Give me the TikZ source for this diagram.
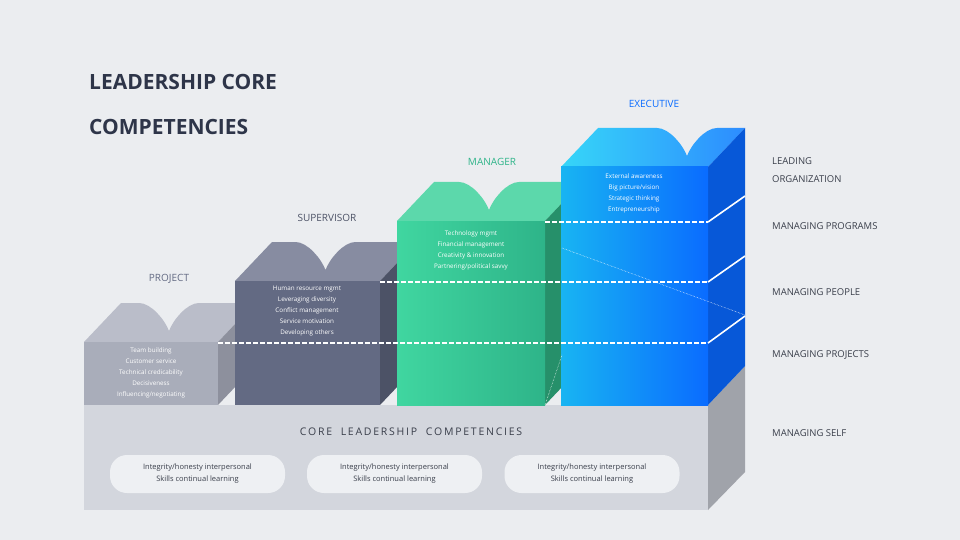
\documentclass[tikz,border=0pt]{standalone}
\usepackage{fontspec}
\setmainfont{Open Sans}
\usetikzlibrary{calc}
\definecolor{bgc}{HTML}{EBEDF0}
\definecolor{titlec}{HTML}{2E3549}
\definecolor{basefront}{HTML}{D3D6DD}
\definecolor{baseside}{HTML}{A0A3AA}
\definecolor{projfront}{HTML}{A9ADBA}
\definecolor{projtop}{HTML}{BABDC9}
\definecolor{projside}{HTML}{8D909D}
\definecolor{supfront}{HTML}{636A83}
\definecolor{suptop}{HTML}{878CA1}
\definecolor{supside}{HTML}{4C5266}
\definecolor{manfrontl}{HTML}{40D6A0}
\definecolor{manfrontr}{HTML}{2EB489}
\definecolor{mantop}{HTML}{5CD8AB}
\definecolor{manside}{HTML}{26906A}
\definecolor{exefrontl}{HTML}{18B4F2}
\definecolor{exefrontr}{HTML}{0A6CFF}
\definecolor{exetopl}{HTML}{36D6F8}
\definecolor{exetopr}{HTML}{2D8CFF}
\definecolor{exeside}{HTML}{0758D8}
\definecolor{labgray}{HTML}{3A3F4B}
\definecolor{pillc}{HTML}{EEF0F3}
% top face of a step with its notch: #1 left x, #2 right x, #3 front y, #4 fill
\newcommand{\steptop}[4]{%
  \pgfmathsetmacro{\nm}{(#1+#2)/2+18}%
  \fill[#4] (#1,#3) -- (#1+37,#3-39) -- (\nm-30,#3-39)
    .. controls (\nm-18,#3-39) and (\nm-4,#3-22) .. (\nm,#3-11)
    .. controls (\nm+4,#3-22) and (\nm+18,#3-39) .. (\nm+30,#3-39)
    -- (#2+37,#3-39) -- (#2,#3) -- cycle;}
\tikzset{
  steptext/.style={text=white, align=center, font=\fontsize{6.3}{11}\selectfont, anchor=north, inner sep=0pt},
  levellabel/.style={font=\fontsize{10}{12}\selectfont, anchor=center, inner sep=0pt},
  sidelabel/.style={text=labgray, font=\fontsize{9.5}{18}\selectfont, anchor=west, align=left, inner sep=0pt},
  pill/.style={fill=pillc, rounded corners=17pt, minimum width=175pt, minimum height=38pt, inner sep=0pt, align=center, text=labgray, font=\fontsize{7.5}{12}\selectfont},
  levelline/.style={white, line width=1.6pt, dash pattern=on 5pt off 2pt},
  riseline/.style={white, line width=1.6pt}
}
\begin{document}
\begin{tikzpicture}[x=1pt,y=-1pt]
\fill[bgc] (0,0) rectangle (960,540);
\useasboundingbox (0,0) rectangle (960,540);

%Shape: base platform
\fill[basefront] (84,405) rectangle (708,510);
\fill[baseside] (708,405) -- (745,366) -- (745,472) -- (708,510) -- cycle;

%Shape: project step
\steptop{84}{218}{342}{projtop}
\fill[projside] (218,342) -- (255,303) -- (255,366) -- (218,405) -- cycle;
\fill[projfront] (84,342) rectangle (218,405);

%Shape: supervisor step
\steptop{235}{380}{281}{suptop}
\fill[supside] (380,281) -- (417,242) -- (417,366) -- (380,405) -- cycle;
\fill[supfront] (235,281) rectangle (380,405);

%Shape: manager step
\steptop{397}{545}{221}{mantop}
\fill[manside] (545,221) -- (582,182) -- (582,366) -- (545,405) -- cycle;
\shade[left color=manfrontl, right color=manfrontr] (397,221) rectangle (545,405);

%Shape: executive step
\shade[left color=exetopl, right color=exetopr] (561,167) -- (598,128) -- (657,128)
  .. controls (669,128) and (683,145) .. (687,156)
  .. controls (691,145) and (705,128) .. (717,128) -- (745,128) -- (708,167) -- cycle;
\fill[exeside] (708,167) -- (745,128) -- (745,366) -- (708,405) -- cycle;
\shade[left color=exefrontl, right color=exefrontr] (561,167) rectangle (708,405);

%Lines: levels
\draw[levelline] (545,222) -- (708,222);
\draw[riseline] (708,222) -- (745,196);
\draw[levelline] (380,282) -- (708,282);
\draw[riseline] (708,282) -- (745,256);
\draw[levelline] (218,343) -- (708,343);
\draw[riseline] (708,343) -- (745,316);
\draw[white, densely dotted, line width=0.5pt] (562,248) -- (745,315);
\draw[white, densely dotted, line width=0.5pt] (545,405) -- (562,355);

% Text Node
\node[anchor=west, text=titlec, font=\fontsize{21}{24}\selectfont\bfseries, inner sep=0pt] (title1) at (89,82) {LEADERSHIP CORE};
\node[anchor=west, text=titlec, font=\fontsize{21}{24}\selectfont\bfseries, inner sep=0pt] (title2) at (89,127) {COMPETENCIES};

\node[levellabel, text=exefrontr] (exe) at (654,104) {EXECUTIVE};
\node[levellabel, text=manfrontr] (man) at (492,162) {MANAGER};
\node[levellabel, text=supside] (sup) at (327,218) {SUPERVISOR};
\node[levellabel, text=supfront] (proj) at (169,279) {PROJECT};

\node[steptext] (projtxt) at (151,348) {Team building\\Customer service\\Technical credicability\\Decisiveness\\Influencing/negotiating};
\node[steptext] (suptxt) at (307,286) {Human resource mgmt\\Leveraging diversity\\Conflict management\\Service motivation\\Developing others};
\node[steptext] (mantxt) at (471,231) {Technology mgmt\\Financial management\\Creativity \& innovation\\Partnering/political savvy};
\node[steptext] (exetxt) at (634,174) {External awareness\\Big picture/vision\\Strategic thinking\\Entrepreneurship};

\node[sidelabel] (lead) at (772,170) {LEADING\\ORGANIZATION};
\node[sidelabel] (prog) at (772,226) {MANAGING PROGRAMS};
\node[sidelabel] (people) at (772,292) {MANAGING PEOPLE};
\node[sidelabel] (projects) at (772,355) {MANAGING PROJECTS};
\node[sidelabel] (self) at (772,433) {MANAGING SELF};

\node[text=labgray, font=\fontsize{10.5}{12}\selectfont, inner sep=0pt] (core) at (411,432) {C\,O\,R\,E\;\; L\,E\,A\,D\,E\,R\,S\,H\,I\,P\;\; C\,O\,M\,P\,E\,T\,E\,N\,C\,I\,E\,S};

\node[pill] (pill1) at (197.5,474) {Integrity/honesty interpersonal\\Skills continual learning};
\node[pill] (pill2) at (394.5,474) {Integrity/honesty interpersonal\\Skills continual learning};
\node[pill] (pill3) at (592,474) {Integrity/honesty interpersonal\\Skills continual learning};
\end{tikzpicture}
\end{document}
